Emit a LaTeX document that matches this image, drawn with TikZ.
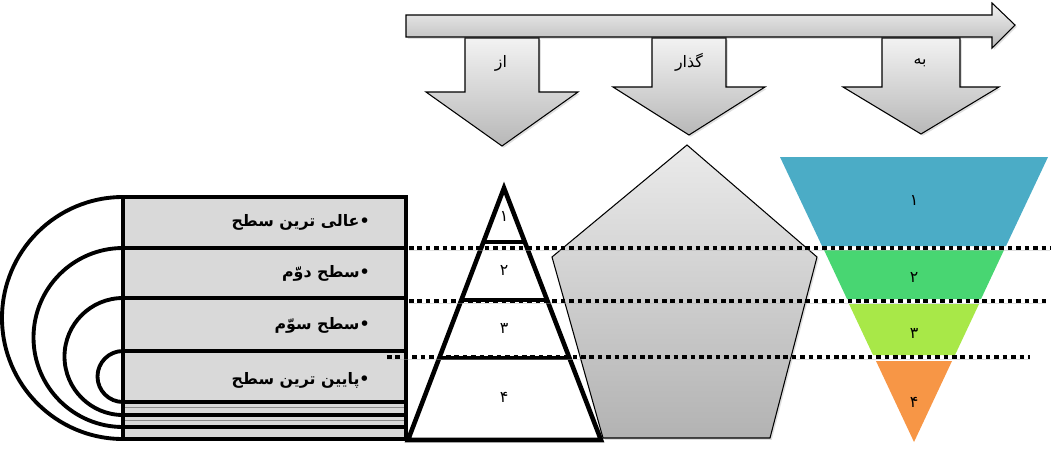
\documentclass[tikz,border=0pt]{standalone}
\usepackage{fontspec}
\newfontfamily\fafont[Script=Arabic]{DejaVu Sans}
\TeXXeTstate=1
\usetikzlibrary{shadows}
\definecolor{funnelA}{HTML}{4BACC6}
\definecolor{funnelB}{HTML}{48D672}
\definecolor{funnelC}{HTML}{A8E848}
\definecolor{funnelD}{HTML}{F79646}
\begin{document}
\begin{tikzpicture}[x=0.02cm, y=-0.02cm,
    boxline/.style={line width=2.2pt},
    triline/.style={line width=2.6pt},
    graybox/.style={fill=black!15},
    grayarrow/.style={draw=black, line width=0.6pt, top color=black!5, bottom color=black!28,
      drop shadow={shadow xshift=1pt, shadow yshift=-1pt, opacity=0.25}},
    dotline/.style={line width=2.6pt, dash pattern=on 2.6pt off 2.2pt,
      preaction={draw=black!30, opacity=0.4, transform canvas={yshift=-1.3pt}}},
    levellabel/.style={anchor=east, inner sep=0pt, font=\fafont\bfseries\fontsize{9}{11}\selectfont},
    numlabel/.style={inner sep=0pt, font=\fafont\fontsize{9}{10}\selectfont},
    arrowlabel/.style={inner sep=0pt, font=\fafont\fontsize{9}{10}\selectfont}]
  \useasboundingbox (0,0) rectangle (1053,450);

  % Levels box
  \fill[graybox] (123,197) rectangle (406,439);
  \draw[black!45, line width=0.4pt] (123,407) -- (406,407);
  \draw[black!45, line width=0.4pt] (123,420) -- (406,420);
  \draw[boxline] (123,197) rectangle (406,439);
  \draw[boxline] (123,248) -- (406,248);
  \draw[boxline] (123,298) -- (406,298);
  \draw[boxline] (123,351) -- (406,351);
  \draw[boxline] (123,402) -- (406,402);
  \draw[boxline] (123,415) -- (406,415);
  \draw[boxline] (123,427) -- (406,427);
  % Half rings
  \draw[boxline] (123,197) arc[start angle=270, end angle=90, radius=121];
  \draw[boxline] (123,248) arc[start angle=270, end angle=90, radius=89.5];
  \draw[boxline] (123,298) arc[start angle=270, end angle=90, radius=58.5];
  \draw[boxline] (123,351) arc[start angle=270, end angle=90, radius=25.5];
  \node[levellabel] (top) at (370,222) {\beginR •عالی ترین سطح\endR};
  \node[levellabel] (second) at (370,273) {\beginR •سطح دوّم\endR};
  \node[levellabel] (third) at (370,325) {\beginR •سطح سوّم\endR};
  \node[levellabel] (bottom) at (370,380) {\beginR •پایین ترین سطح\endR};

  % Pyramid
  \fill[white] (504,188) -- (601,440) -- (408,440) -- cycle;
  \draw[triline] (483,242) -- (525,242);
  \draw[triline] (461,300) -- (547,300);
  \draw[triline] (438,358) -- (570,358);
  \draw[triline, line join=miter] (504,188) -- (601,440) -- (408,440) -- cycle;
  \node[numlabel] (p1) at (504,216) {\beginR ۱\endR};
  \node[numlabel] (p2) at (504,270) {\beginR ۲\endR};
  \node[numlabel] (p3) at (504,328) {\beginR ۳\endR};
  \node[numlabel] (p4) at (504,397) {\beginR ۴\endR};

  % Pentagon
  \draw[line width=0.6pt, top color=black!8, bottom color=black!30,
    drop shadow={shadow xshift=1pt, shadow yshift=-1pt, opacity=0.25}]
    (687,145) -- (817,257) -- (770,438) -- (603,438) -- (552,257) -- cycle;

  % Funnel
  \fill[funnelA] (780,157) -- (1048,157) -- (1006,246) -- (822,246) -- cycle;
  \fill[funnelB] (824,250) -- (1004,250) -- (981,299) -- (847,299) -- cycle;
  \fill[funnelC] (849,304) -- (979,304) -- (955,355) -- (873,355) -- cycle;
  \fill[funnelD] (876,361) -- (952,361) -- (914,442) -- cycle;
  \node[numlabel] (f1) at (914,200) {\beginR ۱\endR};
  \node[numlabel] (f2) at (914,277) {\beginR ۲\endR};
  \node[numlabel] (f3) at (914,333) {\beginR ۳\endR};
  \node[numlabel] (f4) at (914,402) {\beginR ۴\endR};

  % Dotted level lines
  \draw[dotline] (409,248) -- (1050,248);
  \draw[dotline] (409,301) -- (1046,301);
  \draw[dotline] (387,357) -- (1030,357);

  % Down arrows
  \draw[grayarrow] (465,38) -- (539,38) -- (539,92) -- (578,92) -- (502,146)
    -- (426,92) -- (465,92) -- cycle;
  \draw[grayarrow] (652,38) -- (726,38) -- (726,87) -- (765,87) -- (689,135)
    -- (613,87) -- (652,87) -- cycle;
  \draw[grayarrow] (882,38) -- (960,38) -- (960,87) -- (999,87) -- (921,134)
    -- (843,87) -- (882,87) -- cycle;
  \node[arrowlabel] (from) at (501,63) {\beginR از\endR};
  \node[arrowlabel] (pass) at (689,62) {\beginR گذار\endR};
  \node[arrowlabel] (to) at (920,63) {\beginR به\endR};

  % Time arrow
  \draw[grayarrow] (406,15) -- (992,15) -- (992,3) -- (1015,25) -- (992,48)
    -- (992,37) -- (406,37) -- cycle;
\end{tikzpicture}
\end{document}
